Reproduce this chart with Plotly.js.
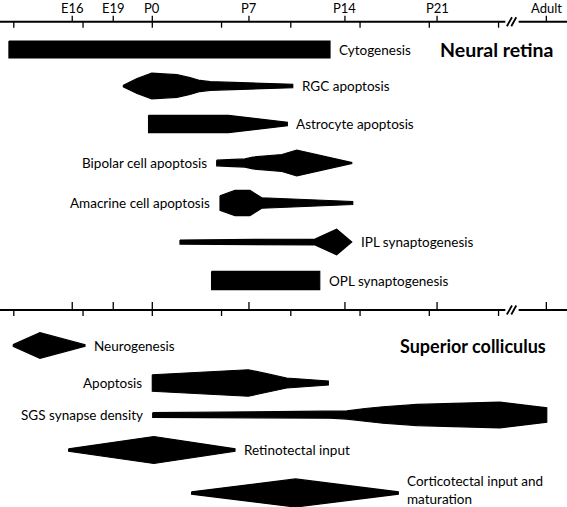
<!DOCTYPE html>
<html><head><meta charset="utf-8">
<script src="https://cdn.plot.ly/plotly-3.0.1.min.js"></script>
<style>html,body{margin:0;padding:0;background:#fff;}#chart{width:567px;height:507px;}</style>
</head><body><div id="chart"></div>
<script>
// ---- Time axis (days relative to birth, P0 = 0) ----
const stageLabels = ['E16', 'E19', 'P0', 'P7', 'P14', 'P21', 'Adult'];
const stageDays = [-5.78, -2.82, 0, 6.98, 13.91, 20.56, 28.45];
const minorTickDays = [-10, -5, 0, 5, 10, 15, 20, 25];

// ---- Neural retina: time points (days) and relative intensity (0-10) ----
const cytogenesisDays = [-10.35, 12.83];
const cytogenesisLevel = [6.3, 6.3];
const rgcApoptosisDays = [-2.09, -1.10, -0.04, 1.78, 2.72, 3.44, 4.17, 10.14];
const rgcApoptosisLevel = [0.6, 5.6, 9.5, 8.4, 6.3, 4.1, 3.2, 1.3];
const astroApoptosisDays = [-0.27, 5.49, 9.75];
const astroApoptosisLevel = [6.4, 6.4, 1.3];
const bipolarApoptosisDays = [4.65, 6.69, 7.27, 9.36, 10.43, 14.40];
const bipolarApoptosisLevel = [2.1, 3.0, 4.4, 6.3, 9.6, 0.3];
const amacrineApoptosisDays = [4.89, 5.97, 7.05, 7.90, 14.47];
const amacrineApoptosisLevel = [5.4, 9.4, 9.4, 3.9, 1.1];
const iplSynaptoDays = [2.00, 11.75, 13.31, 14.40];
const iplSynaptoLevel = [1.5, 2.2, 9.5, 0];
const oplSynaptoDays = [4.28, 12.09];
const oplSynaptoLevel = [6.7, 6.7];

// ---- Superior colliculus ----
const neurogenesisDays = [-10.04, -8.11, -4.86];
const neurogenesisLevel = [0.7, 9.5, 0.6];
const scApoptosisDays = [0, 6.93, 8.26, 9.70, 12.71];
const scApoptosisLevel = [6.1, 9.8, 6.9, 3.7, 1.5];
const sgsDensityDays = [0.03, 12.83, 14.04, 15.36, 16.66, 19.12, 21.50, 25.10, 28.48];
const sgsDensityLevel = [1.7, 2.4, 3.0, 4.8, 6.1, 7.8, 8.7, 9.6, 5.3];
const retinotectalDays = [-6.04, 0.11, 5.97];
const retinotectalLevel = [0.9, 10, 0.9];
const corticotectalDays = [2.84, 10.34, 17.76];
const corticotectalLevel = [0.9, 10.4, 0.9];

const processNames = ['Cytogenesis', 'RGC apoptosis', 'Astrocyte apoptosis', 'Bipolar cell apoptosis',
  'Amacrine cell apoptosis', 'IPL synaptogenesis', 'OPL synaptogenesis',
  'Neurogenesis', 'Apoptosis', 'SGS synapse density', 'Retinotectal input',
  'Corticotectal input and<br>maturation'];

// ---- layout (positions, in px rows) ----
const W = 567, H = 507;
const X0 = -10.996, X1 = 29.942;       // visible day range
const K = 1.35;                          // px per intensity unit
const topAxisY = 21.7, botAxisY = 310;
const rowY = [49.5, 86, 124, 163, 203, 242, 280.5, 345.5, 383, 415, 450, 493];
const labelSide = ['r', 'r', 'r', 'l', 'l', 'r', 'r', 'r', 'l', 'l', 'r', 'r'];
const labelYShift = [0, 0, 0, 0, 0, 0, 0, 0, 0, 0, 0, 3];
const breakLeft = 25.49, breakRight = 26.45;

const profiles = [
  [cytogenesisDays, cytogenesisLevel], [rgcApoptosisDays, rgcApoptosisLevel],
  [astroApoptosisDays, astroApoptosisLevel], [bipolarApoptosisDays, bipolarApoptosisLevel],
  [amacrineApoptosisDays, amacrineApoptosisLevel], [iplSynaptoDays, iplSynaptoLevel],
  [oplSynaptoDays, oplSynaptoLevel], [neurogenesisDays, neurogenesisLevel],
  [scApoptosisDays, scApoptosisLevel], [sgsDensityDays, sgsDensityLevel],
  [retinotectalDays, retinotectalLevel], [corticotectalDays, corticotectalLevel]
];

const FONT = 'Lato, "Open Sans", sans-serif';
const traces = [];
const annotations = [];

profiles.forEach(([days, level], i) => {
  const yc = rowY[i];
  const up = days.map((d, j) => yc - level[j] * K);
  const lo = days.map((d, j) => yc + level[j] * K);
  traces.push({
    type: 'scatter', mode: 'lines', hoverinfo: 'skip', showlegend: false,
    x: days.concat(days.slice().reverse(), [days[0]]),
    y: up.concat(lo.slice().reverse(), [up[0]]),
    fill: 'toself', fillcolor: '#000', line: {color: '#000', width: 1.2}
  });
  const right = labelSide[i] === 'r';
  annotations.push({
    x: right ? days[days.length - 1] : days[0], y: yc, xref: 'x', yref: 'y',
    text: processNames[i], showarrow: false, align: 'left',
    xanchor: right ? 'left' : 'right', yanchor: 'middle',
    xshift: right ? 7 : -8, yshift: labelYShift[i],
    font: {family: FONT, size: 13.5, color: '#000'}
  });
});

// timeline axes
[topAxisY, botAxisY].forEach((ay, k) => {
  traces.push({type: 'scatter', mode: 'lines', hoverinfo: 'skip', showlegend: false,
    x: [X0, breakLeft, null, breakRight, X1], y: [ay, ay, null, ay, ay],
    line: {color: '#000', width: 2}});
  const tx = [], ty = [];
  const upLen = k === 0 ? 6 : 8;
  stageDays.forEach(d => { tx.push(d, d, null); ty.push(ay - upLen, ay, null); });
  minorTickDays.forEach(d => { tx.push(d, d, null); ty.push(ay, ay + 6, null); });
  traces.push({type: 'scatter', mode: 'lines', hoverinfo: 'skip', showlegend: false,
    x: tx, y: ty, line: {color: '#000', width: 1.3}});
  // break mark
  traces.push({type: 'scatter', mode: 'lines', hoverinfo: 'skip', showlegend: false,
    x: [25.60, 25.97, null, 25.92, 26.28], y: [ay + 4.5, ay - 4.5, null, ay + 4.5, ay - 4.5],
    line: {color: '#000', width: 1.8}});
});

stageLabels.forEach((s, i) => {
  annotations.push({x: stageDays[i], y: 7.5, xref: 'x', yref: 'y', text: s, showarrow: false,
    xanchor: 'center', yanchor: 'middle', font: {family: FONT, size: 13, color: '#000'}});
});

annotations.push({x: 20.6, y: 49.5, xref: 'x', yref: 'y', text: '<b>Neural retina</b>', showarrow: false,
  xanchor: 'left', yanchor: 'middle', font: {family: FONT, size: 19.5, color: '#000'}});
annotations.push({x: 17.74, y: 346, xref: 'x', yref: 'y', text: '<b>Superior colliculus</b>', showarrow: false,
  xanchor: 'left', yanchor: 'middle', font: {family: FONT, size: 18, color: '#000'}});

const layout = {
  width: W, height: H, margin: {l: 0, r: 0, t: 0, b: 0},
  paper_bgcolor: '#fff', plot_bgcolor: '#fff', showlegend: false,
  xaxis: {range: [X0, X1], visible: false, fixedrange: true},
  yaxis: {range: [H, 0], visible: false, fixedrange: true},
  annotations: annotations
};
Plotly.newPlot('chart', traces, layout, {displayModeBar: false, staticPlot: true});
</script></body></html>
